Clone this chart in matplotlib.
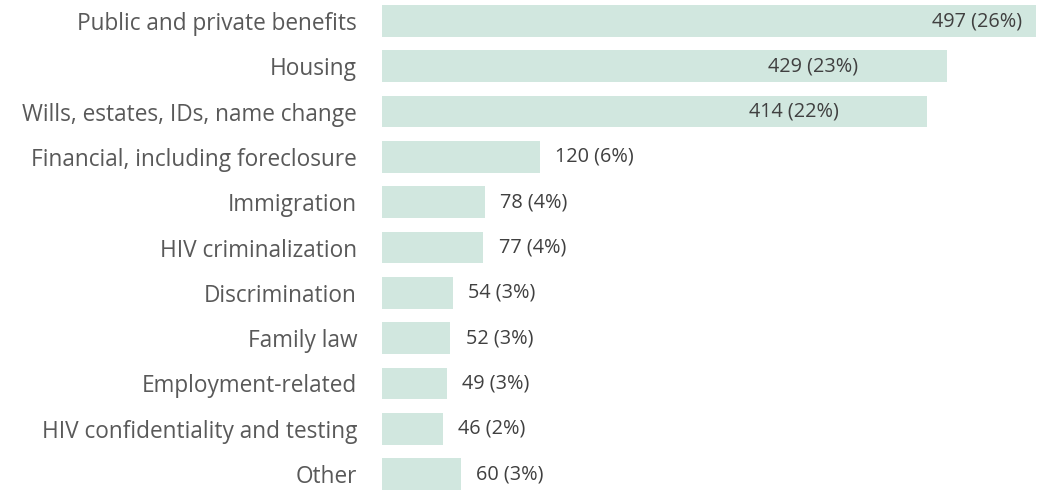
import matplotlib
matplotlib.use('Agg')
import matplotlib.pyplot as plt

categories = ['Public and private benefits', 'Housing', 'Wills, estates, IDs, name change',
              'Financial, including foreclosure', 'Immigration', 'HIV criminalization',
              'Discrimination', 'Family law', 'Employment-related',
              'HIV confidentiality and testing', 'Other']
counts = [497, 429, 414, 120, 78, 77, 54, 52, 49, 46, 60]
percents = [26, 23, 22, 6, 4, 4, 3, 3, 3, 2, 3]

plt.rcParams['font.family'] = ['Open Sans', 'DejaVu Sans']

dpi = 100.0
fig = plt.figure(figsize=(1037/dpi, 490/dpi), dpi=dpi, facecolor='white')
ax = fig.add_axes([382/1037.0, 0.0, 1.0 - 382/1037.0, 1.0], frameon=False)

ypos = list(range(len(categories)))
ax.barh(ypos, counts, height=0.70, color='#d1e7df')
ax.set_xlim(0, 497.5)
ax.set_ylim(10.353, -0.464)

for y, c, p in zip(ypos, counts, percents):
    txt = '%d (%d%%)' % (c, p)
    if c == max(counts):
        ax.text(c - 11, y, txt, ha='right', va='center', fontsize=14.3, color='#404040')
    elif c > 300:
        ax.text(c - 67, y, txt, ha='right', va='center', fontsize=14.3, color='#404040')
    else:
        ax.annotate(txt, xy=(c, y), xytext=(11, 0), textcoords='offset points',
                    ha='left', va='center', fontsize=14.3, color='#404040')

ax.set_yticks(ypos)
ax.set_yticklabels(categories, fontsize=16.3, color='#595959')
ax.tick_params(axis='y', length=0, pad=18)
ax.set_xticks([])

fig.savefig('out.png', dpi=dpi)
